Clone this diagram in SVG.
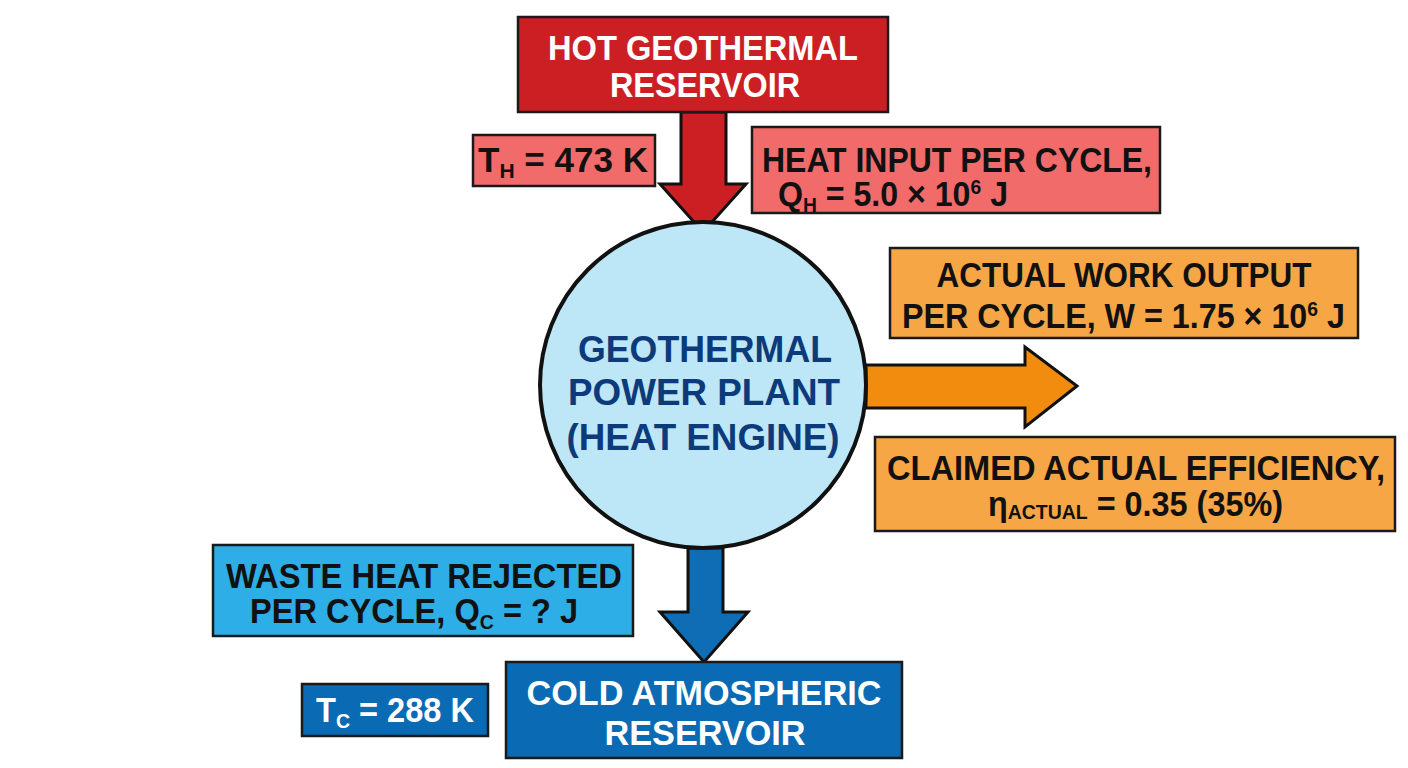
<svg xmlns="http://www.w3.org/2000/svg" width="1408" height="768" viewBox="0 0 1408 768">
<style>
.box{stroke:#1a1a1a;stroke-width:2.5}
.t{font-family:"Liberation Sans",Arial,sans-serif;font-weight:bold;font-size:35px}
.w{fill:#ffffff}
.k{fill:#111111}
.b{fill:#0d3a7a;font-size:36px}
.s{font-size:21px}
.arr{stroke:#111111;stroke-width:3;stroke-linejoin:miter}
</style>
<rect width="1408" height="768" fill="#ffffff"/>
<g id="connectors">
  <polygon class="arr" fill="#cc1f24" points="681,112 726,112 726,184 746,184 703,232 660,184 681,184"/>
  <polygon class="arr" fill="#f28c0f" points="866,365 1025,365 1025,347 1077,386 1025,427 1025,408 866,408"/>
  <polygon class="arr" fill="#0f6db5" points="688,548 723,548 723,612 748,612 704,662 660,612 688,612"/>
</g>
<g id="hot-reservoir">
  <rect class="box" x="518" y="17" width="370" height="95" fill="#cc1f24"/>
  <text class="t w" x="703" y="60" text-anchor="middle" textLength="310" lengthAdjust="spacingAndGlyphs">HOT GEOTHERMAL</text>
  <text class="t w" x="705" y="97" text-anchor="middle" textLength="190" lengthAdjust="spacingAndGlyphs">RESERVOIR</text>
</g>
<g id="th-label">
  <rect class="box" x="473" y="135" width="182" height="51" fill="#f26b6b"/>
  <text class="t k" x="478" y="172" textLength="170" lengthAdjust="spacingAndGlyphs">T<tspan class="s" dy="6">H</tspan><tspan dy="-6"> = 473 K</tspan></text>
</g>
<g id="heat-input">
  <rect class="box" x="752" y="127" width="408" height="86" fill="#f26b6b"/>
  <text class="t k" x="762" y="172" textLength="390" lengthAdjust="spacingAndGlyphs">HEAT INPUT PER CYCLE,</text>
  <text class="t k" x="778" y="206" textLength="230" lengthAdjust="spacingAndGlyphs">Q<tspan class="s" dy="6">H</tspan><tspan dy="-6"> = 5.0 × 10</tspan><tspan class="s" dy="-12">6</tspan><tspan dy="12"> J</tspan></text>
</g>
<g id="engine">
  <circle cx="703" cy="385" r="163" fill="#bde6f7" stroke="#111111" stroke-width="4"/>
  <text class="t b" x="705" y="362" text-anchor="middle" textLength="254" lengthAdjust="spacingAndGlyphs">GEOTHERMAL</text>
  <text class="t b" x="704" y="405" text-anchor="middle" textLength="272" lengthAdjust="spacingAndGlyphs">POWER PLANT</text>
  <text class="t b" x="703" y="450" text-anchor="middle" textLength="273" lengthAdjust="spacingAndGlyphs">(HEAT ENGINE)</text>
</g>
<g id="work-output">
  <rect class="box" x="890" y="248" width="468" height="90" fill="#f7a646"/>
  <text class="t k" x="1124" y="287" text-anchor="middle" textLength="375" lengthAdjust="spacingAndGlyphs">ACTUAL WORK OUTPUT</text>
  <text class="t k" x="902" y="328" textLength="443" lengthAdjust="spacingAndGlyphs">PER CYCLE, W = 1.75 × 10<tspan class="s" dy="-12">6</tspan><tspan dy="12"> J</tspan></text>
</g>
<g id="efficiency">
  <rect class="box" x="875" y="437" width="520" height="94" fill="#f7a646"/>
  <text class="t k" x="887" y="480" textLength="498" lengthAdjust="spacingAndGlyphs">CLAIMED ACTUAL EFFICIENCY,</text>
  <text class="t k" x="988" y="516" textLength="295" lengthAdjust="spacingAndGlyphs">η<tspan class="s" dy="3">ACTUAL</tspan><tspan dy="-3"> = 0.35 (35%)</tspan></text>
</g>
<g id="waste-heat">
  <rect class="box" x="213" y="545" width="420" height="91" fill="#2eaee6"/>
  <text class="t k" x="226" y="588" textLength="396" lengthAdjust="spacingAndGlyphs">WASTE HEAT REJECTED</text>
  <text class="t k" x="250" y="623" textLength="328" lengthAdjust="spacingAndGlyphs">PER CYCLE, Q<tspan class="s" dy="6">C</tspan><tspan dy="-6"> = ? J</tspan></text>
</g>
<g id="tc-label">
  <rect class="box" x="302" y="684" width="186" height="52" fill="#0a6ab3"/>
  <text class="t w" x="316" y="722" textLength="158" lengthAdjust="spacingAndGlyphs">T<tspan class="s" dy="6">C</tspan><tspan dy="-6"> = 288 K</tspan></text>
</g>
<g id="cold-reservoir">
  <rect class="box" x="506" y="662" width="396" height="96" fill="#0a6ab3"/>
  <text class="t w" x="704" y="705" text-anchor="middle" textLength="355" lengthAdjust="spacingAndGlyphs">COLD ATMOSPHERIC</text>
  <text class="t w" x="705" y="745" text-anchor="middle" textLength="201" lengthAdjust="spacingAndGlyphs">RESERVOIR</text>
</g>
</svg>
